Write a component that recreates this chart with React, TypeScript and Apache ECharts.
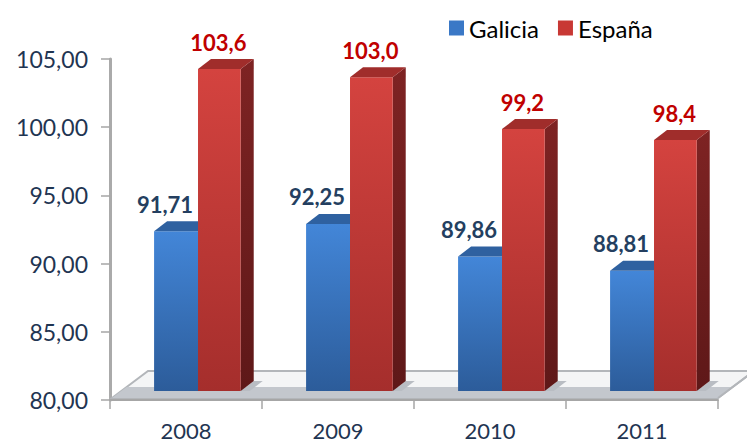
import React, { useEffect, useRef } from "react";
import * as echarts from "echarts";

const categories = ["2008", "2009", "2010", "2011"];
const galicia = [91.71, 92.25, 89.86, 88.81];
const espana = [103.6, 103.0, 99.2, 98.4];
const seriesNames = ["Galicia", "España"];
const yMin = 80;
const yMax = 105;
const yStep = 5;

const FONT = "Lato, 'Liberation Sans', sans-serif";
const NAVY = "#1f3552";

const fmt = (v: number, d: number) => v.toFixed(d).replace(".", ",");

const palette = [
  {
    frontTop: "#4386d8",
    frontBottom: "#2c5c9a",
    top: "#2f61a0",
    sideTop: "#23497a",
    sideBottom: "#1a385e",
    label: "#243f60",
    legend: "#3a78c6",
    labelShift: -11,
    decimals: 2,
  },
  {
    frontTop: "#d4433f",
    frontBottom: "#a52e2c",
    top: "#a02d2b",
    sideTop: "#7e2323",
    sideBottom: "#5e1818",
    label: "#c00000",
    legend: "#c83834",
    labelShift: -1,
    decimals: 1,
  },
];

function makeBarRenderer(kind: number) {
  const c = palette[kind];
  return (params: any, api: any) => {
    const i = api.value(0);
    const v = api.value(1);
    const p = api.coord([i, v]);
    const b = api.coord([i, yMin]);
    const bw = api.size([1, 0])[0];
    const lift = 9;
    const dx = 13;
    const dy = 10;
    const xl = kind === 0 ? p[0] - 0.21 * bw : p[0] + 0.079 * bw;
    const xr = kind === 0 ? p[0] + 0.079 * bw : p[0] + 0.36 * bw;
    const yt = p[1] - lift;
    const yb = b[1] - lift;
    const children: any[] = [];
    if (kind === 1) {
      children.push({
        type: "polygon",
        shape: {
          points: [
            [xr, yb],
            [xr + dx, yb - dy],
            [xr + dx + 9, yb - dy],
            [xr + 9, yb],
          ],
        },
        style: { fill: "#b9bdc3" },
      });
    }
    children.push({
      type: "polygon",
      shape: {
        points: [
          [xr, yt],
          [xr + dx, yt - dy],
          [xr + dx, yb - dy],
          [xr, yb],
        ],
      },
      style: {
        fill: new echarts.graphic.LinearGradient(0, 0, 0, 1, [
          { offset: 0, color: c.sideTop },
          { offset: 1, color: c.sideBottom },
        ]),
      },
    });
    children.push({
      type: "rect",
      shape: { x: xl, y: yt, width: xr - xl, height: yb - yt },
      style: {
        fill: new echarts.graphic.LinearGradient(0, 0, 0, 1, [
          { offset: 0, color: c.frontTop },
          { offset: 1, color: c.frontBottom },
        ]),
      },
    });
    children.push({
      type: "polygon",
      shape: {
        points: [
          [xl, yt],
          [xl + dx, yt - dy],
          [xr + dx, yt - dy],
          [xr, yt],
        ],
      },
      style: { fill: c.top },
    });
    children.push({
      type: "text",
      style: {
        text: fmt(v, c.decimals),
        x: (xl + xr) / 2 + c.labelShift,
        y: yt - 27,
        textAlign: "center",
        textVerticalAlign: "middle",
        fill: c.label,
        font: `bold 22px ${FONT}`,
      },
    });
    return { type: "group", children };
  };
}

function renderFloor(params: any, api: any) {
  const cs = params.coordSys;
  const x0 = cs.x + 2;
  const x1 = cs.x + cs.width;
  const yf = cs.y + cs.height - 2;
  const depthX = 36;
  const depthY = 27;
  const yBack = yf - depthY;
  const band = 11;
  return {
    type: "group",
    children: [
      {
        type: "polygon",
        shape: {
          points: [
            [x0, yf],
            [x0 + depthX, yBack],
            [x1 + depthX, yBack],
            [x1, yf],
          ],
        },
        style: { fill: "#f4f5f6", stroke: "#b3b6ba", lineWidth: 2 },
      },
      {
        type: "polygon",
        shape: {
          points: [
            [x0, yf],
            [x0 + (band * depthX) / depthY, yf - band],
            [x1 + (band * depthX) / depthY, yf - band],
            [x1, yf],
          ],
        },
        style: { fill: "#c3c7cd" },
      },
      {
        type: "line",
        shape: { x1: x1, y1: yf, x2: x1 + depthX, y2: yBack },
        style: { stroke: "#b3b6ba", lineWidth: 2 },
      },
    ],
  };
}

export default function App() {
  const ref = useRef<HTMLDivElement>(null);
  useEffect(() => {
    if (!ref.current) return;
    const chart = echarts.init(ref.current, null, { renderer: "svg" });
    chart.setOption({
      animation: false,
      backgroundColor: "#ffffff",
      textStyle: { fontFamily: FONT },
      legend: {
        data: seriesNames,
        left: 444,
        top: 11,
        icon: "rect",
        itemWidth: 15,
        itemHeight: 15,
        itemGap: 19,
        textStyle: { fontSize: 24, color: "#000000", fontFamily: FONT },
      },
      grid: { left: 110, right: 29, top: 59, bottom: 43 },
      xAxis: {
        type: "category",
        data: categories,
        axisLine: { show: true, lineStyle: { color: "#a6a6a6", width: 2 } },
        axisTick: { show: true, length: 9, lineStyle: { color: "#a6a6a6", width: 1.5 } },
        axisLabel: {
          fontSize: 22,
          lineHeight: 22,
          color: NAVY,
          margin: 19,
          fontFamily: FONT,
        },
        splitLine: { show: false },
      },
      yAxis: {
        type: "value",
        min: yMin,
        max: yMax,
        interval: yStep,
        axisLine: { show: true, lineStyle: { color: "#aaaaaa", width: 3 } },
        axisTick: { show: true, length: 9, lineStyle: { color: "#a6a6a6", width: 1.5 } },
        axisLabel: {
          fontSize: 23,
          color: NAVY,
          margin: 22,
          fontFamily: FONT,
          formatter: (v: number) => fmt(v, 2),
        },
        splitLine: { show: false },
      },
      series: [
        {
          name: "floor",
          type: "custom",
          silent: true,
          clip: false,
          z: 1,
          renderItem: renderFloor,
          data: [[0, yMin]],
        },
        {
          name: seriesNames[0],
          type: "custom",
          silent: true,
          clip: false,
          z: 2,
          itemStyle: { color: palette[0].legend },
          renderItem: makeBarRenderer(0),
          encode: { x: 0, y: 1 },
          data: categories.map((_, i) => [i, galicia[i]]),
        },
        {
          name: seriesNames[1],
          type: "custom",
          silent: true,
          clip: false,
          z: 3,
          itemStyle: { color: palette[1].legend },
          renderItem: makeBarRenderer(1),
          encode: { x: 0, y: 1 },
          data: categories.map((_, i) => [i, espana[i]]),
        },
      ],
    });
    return () => chart.dispose();
  }, []);
  return (
    <div
      ref={ref}
      style={{ position: "fixed", left: 0, top: 0, width: 747, height: 443 }}
    />
  );
}
